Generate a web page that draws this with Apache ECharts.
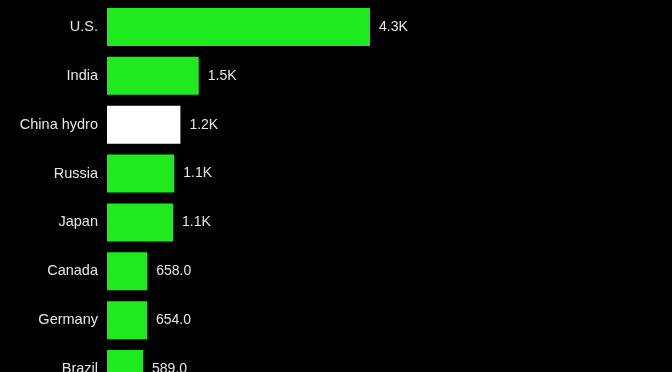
<!DOCTYPE html>
<html>
<head>
<meta charset="utf-8">
<script src="https://cdn.jsdelivr.net/npm/echarts@6/dist/echarts.min.js"></script>
<style>
html,body{margin:0;padding:0;background:#000;overflow:hidden;}
#c{width:672px;height:420px;}
</style>
</head>
<body>
<div id="c"></div>
<script>
const categories = ['U.S.', 'India', 'China hydro', 'Russia', 'Japan', 'Canada', 'Germany', 'Brazil'];
const values = [4300, 1500, 1200, 1100, 1080, 658, 654, 589];
const highlight = ['China hydro'];

const chart = echarts.init(document.getElementById('c'));
function fmt(v) {
  return v >= 1000 ? (v / 1000).toFixed(1) + 'K' : v.toFixed(1);
}
chart.setOption({
  backgroundColor: '#000',
  animation: false,
  grid: { left: 107, top: 2.5, width: 263, height: 391 },
  xAxis: { type: 'value', min: 0, max: 4300, show: false },
  yAxis: {
    type: 'category', data: categories, inverse: true,
    axisLine: { show: false }, axisTick: { show: false },
    axisLabel: { color: '#e6e6e6', fontSize: 14.5, fontFamily: 'Liberation Sans, Arial, sans-serif', margin: 9 }
  },
  series: [{
    type: 'bar',
    barWidth: 38,
    data: values.map((v, i) => ({
      value: v,
      itemStyle: { color: highlight.includes(categories[i]) ? '#ffffff' : '#1eea1e' }
    })),
    label: {
      show: true, position: 'right', distance: 9,
      color: '#e6e6e6', fontSize: 14, fontFamily: 'Liberation Sans, Arial, sans-serif',
      formatter: p => fmt(p.value)
    }
  }]
});
</script>
</body>
</html>
